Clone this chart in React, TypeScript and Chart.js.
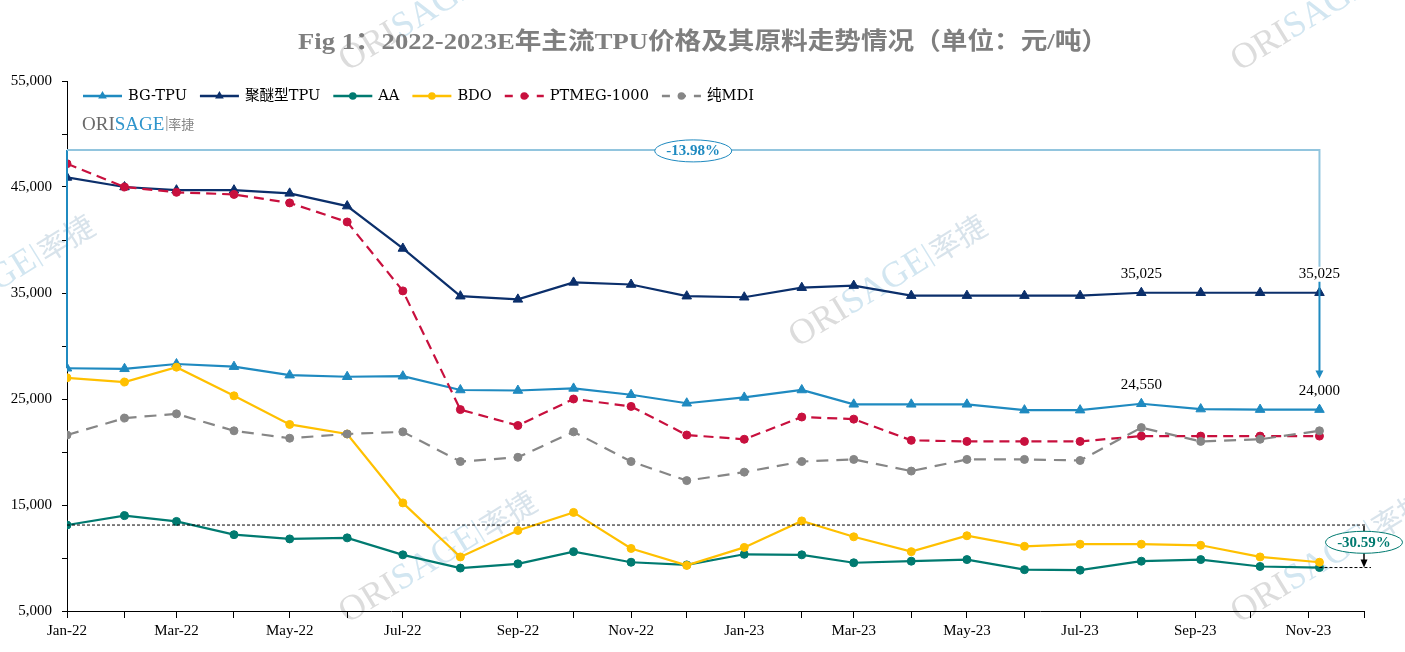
import React, { useEffect, useRef } from 'react';
import { Chart, registerables } from 'chart.js';

Chart.register(...registerables);

// ---------------- DATA ----------------
const TITLE = 'Fig 1：2022-2023E年主流TPU价格及其原料走势情况（单位：元/吨）';

const X_TICK_DATES = [
  '2022-01-01', '2022-02-01', '2022-03-01', '2022-04-01', '2022-05-01', '2022-06-01',
  '2022-07-01', '2022-08-01', '2022-09-01', '2022-10-01', '2022-11-01', '2022-12-01',
  '2023-01-01', '2023-02-01', '2023-03-01', '2023-04-01', '2023-05-01', '2023-06-01',
  '2023-07-01', '2023-08-01', '2023-09-01', '2023-10-01', '2023-11-01', '2023-12-01',
];
const X_TICK_LABELS = [
  'Jan-22', '', 'Mar-22', '', 'May-22', '', 'Jul-22', '', 'Sep-22', '', 'Nov-22', '',
  'Jan-23', '', 'Mar-23', '', 'May-23', '', 'Jul-23', '', 'Sep-23', '', 'Nov-23', '',
];

const POINT_DATES = [
  '2022-01-01', '2022-02-01', '2022-03-01', '2022-04-01', '2022-05-01', '2022-06-01',
  '2022-07-01', '2022-08-01', '2022-09-01', '2022-10-01', '2022-11-01', '2022-12-01',
  '2023-01-01', '2023-02-01', '2023-03-01', '2023-04-01', '2023-05-01', '2023-06-01',
  '2023-07-01', '2023-08-03', '2023-09-04', '2023-10-06', '2023-11-07',
];

const BG_TPU = [27900, 27850, 28300, 28050, 27250, 27100, 27150, 25850, 25800, 26000, 25400, 24600,
  25150, 25850, 24500, 24500, 24500, 23950, 23950, 24550, 24050, 24000, 24000];
const POLYETHER_TPU = [45900, 45000, 44700, 44700, 44400, 43200, 39200, 34700, 34400, 36000, 35800, 34700,
  34600, 35500, 35700, 34750, 34750, 34750, 34750, 35025, 35025, 35025, 35025];
const AA = [13110, 14000, 13450, 12200, 11800, 11900, 10300, 9050, 9450, 10600, 9600, 9350,
  10350, 10300, 9550, 9700, 9850, 8900, 8850, 9700, 9850, 9200, 9100];
const BDO = [27000, 26600, 28000, 25300, 22600, 21700, 15200, 10100, 12600, 14300, 10900, 9300,
  11000, 13500, 12000, 10600, 12100, 11100, 11300, 11300, 11200, 10100, 9600];
const PTMEG = [47200, 45000, 44500, 44300, 43500, 41700, 35200, 24000, 22500, 25000, 24300, 21600,
  21200, 23300, 23100, 21100, 21000, 21000, 21000, 21500, 21500, 21500, 21500];
const MDI = [21600, 23200, 23600, 22000, 21300, 21700, 21900, 19100, 19500, 21900, 19100, 17300,
  18100, 19100, 19300, 18200, 19300, 19300, 19200, 22300, 21000, 21200, 22000];

const SERIES_LABELS = ['BG-TPU', '聚醚型TPU', 'AA', 'BDO', 'PTMEG-1000', '纯MDI'];
const SERIES_VALUES = [BG_TPU, POLYETHER_TPU, AA, BDO, PTMEG, MDI];

const Y_MIN = 5000;
const Y_MAX = 55000;
const Y_STEP = 5000;

// data labels: [series index, point index]
const LABELED_POINTS: [number, number][] = [[1, 19], [1, 22], [0, 19], [0, 22]];
const BRACKET_LEVEL = 48500;
const BG_CHANGE = '-13.98%';
const AA_CHANGE = '-30.59%';

// ---------------- STYLES ----------------
const COLORS = ['#1F8AC0', '#0B2F6B', '#007A70', '#FFC000', '#C8103E', '#868686'];
const POINT_STYLES = ['triangle', 'triangle', 'circle', 'circle', 'circle', 'circle'];
const DASHES = [[], [], [], [], [10, 6], [12, 8]];
const SERIF = '"Liberation Serif", "Times New Roman", serif';

const DAY0 = Date.parse('2022-01-01');
const toDay = (s: string) => Math.round((Date.parse(s) - DAY0) / 86400000);
const fmt = (v: number) => v.toLocaleString('en-US');

function drawTriangle(ctx: CanvasRenderingContext2D, x: number, y: number, r: number) {
  ctx.beginPath();
  ctx.moveTo(x, y - r);
  ctx.lineTo(x + r * 0.866, y + r * 0.5);
  ctx.lineTo(x - r * 0.866, y + r * 0.5);
  ctx.closePath();
  ctx.fill();
}

function arrowDown(ctx: CanvasRenderingContext2D, x: number, tipY: number, w: number, h: number) {
  ctx.beginPath();
  ctx.moveTo(x, tipY);
  ctx.lineTo(x - w / 2, tipY - h);
  ctx.lineTo(x + w / 2, tipY - h);
  ctx.closePath();
  ctx.fill();
}

function drawWatermark(ctx: CanvasRenderingContext2D, cx: number, cy: number) {
  ctx.save();
  ctx.translate(cx, cy);
  ctx.rotate(-31.6 * Math.PI / 180);
  ctx.textBaseline = 'middle';
  ctx.font = `36px ${SERIF}`;
  const w1 = ctx.measureText('ORI').width;
  const w2 = ctx.measureText('SAGE').width;
  ctx.font = '30px "Noto Sans CJK SC"';
  const w3 = ctx.measureText('率捷').width;
  const total = w1 + w2 + 8 + w3;
  let x = -total / 2;
  ctx.font = `36px ${SERIF}`;
  ctx.fillStyle = '#dcdcdc';
  ctx.fillText('ORI', x, 0);
  x += w1;
  ctx.fillStyle = '#d2e6f1';
  ctx.fillText('SAGE', x, 0);
  x += w2 + 3;
  ctx.fillRect(x, -14, 1.5, 26);
  x += 5;
  ctx.font = '30px "Noto Sans CJK SC"';
  ctx.fillStyle = '#d8e3eb';
  ctx.fillText('率捷', x, 0);
  ctx.restore();
}

const overlayPlugin = {
  id: 'overlay',
  beforeDraw(chart: any) {
    const ctx: CanvasRenderingContext2D = chart.ctx;
    ctx.save();
    ctx.fillStyle = '#ffffff';
    ctx.fillRect(0, 0, chart.width, chart.height);
    const centers = [[438, 5], [1330, 5], [-4, 281], [888, 281], [438, 557], [1330, 557]];
    centers.forEach(([x, y]) => drawWatermark(ctx, x, y));
    ctx.restore();
  },
  afterDatasetsDraw(chart: any) {
    const ctx: CanvasRenderingContext2D = chart.ctx;
    const xs = chart.scales.x;
    const ys = chart.scales.y;
    const area = chart.chartArea;
    const n = POINT_DATES.length;
    const xFirst = xs.getPixelForValue(toDay(POINT_DATES[0]));
    const xLast = xs.getPixelForValue(toDay(POINT_DATES[n - 1]));
    const yBr = ys.getPixelForValue(BRACKET_LEVEL);
    const yBgFirst = ys.getPixelForValue(BG_TPU[0]);
    const yBgLast = ys.getPixelForValue(BG_TPU[n - 1]);
    const yPeLast = ys.getPixelForValue(POLYETHER_TPU[n - 1]);
    ctx.save();

    // ---- BG-TPU bracket ----
    ctx.lineWidth = 2;
    ctx.strokeStyle = '#1F8AC0';
    ctx.beginPath();
    ctx.moveTo(xFirst, yBr);
    ctx.lineTo(xFirst, yBgFirst);
    ctx.stroke();
    ctx.strokeStyle = '#92C5DE';
    ctx.beginPath();
    ctx.moveTo(xFirst, yBr);
    ctx.lineTo(xLast, yBr);
    ctx.lineTo(xLast, yPeLast - 26);
    ctx.stroke();
    ctx.strokeStyle = '#1F8AC0';
    ctx.fillStyle = '#1F8AC0';
    const tip = yBgLast - 31;
    ctx.beginPath();
    ctx.moveTo(xLast, yPeLast - 11);
    ctx.lineTo(xLast, tip - 6);
    ctx.stroke();
    arrowDown(ctx, xLast, tip, 8, 8);

    // ellipse -13.98%
    const ex = (xFirst + xLast) / 2;
    ctx.beginPath();
    ctx.ellipse(ex, yBr + 1, 38.5, 11, 0, 0, Math.PI * 2);
    ctx.fillStyle = '#ffffff';
    ctx.fill();
    ctx.lineWidth = 1;
    ctx.strokeStyle = '#1F8AC0';
    ctx.stroke();
    ctx.fillStyle = '#1F8AC0';
    ctx.font = `bold 15px ${SERIF}`;
    ctx.textAlign = 'center';
    ctx.textBaseline = 'middle';
    ctx.fillText(BG_CHANGE, ex, yBr + 1.5);

    // ---- AA dashed reference ----
    const yAaFirst = ys.getPixelForValue(AA[0]);
    const yAaLast = ys.getPixelForValue(AA[n - 1]);
    ctx.strokeStyle = '#000000';
    ctx.lineWidth = 1;
    ctx.setLineDash([3, 2]);
    ctx.beginPath();
    ctx.moveTo(area.left, yAaFirst);
    ctx.lineTo(area.right + 3, yAaFirst);
    ctx.moveTo(xLast, yAaLast);
    ctx.lineTo(area.right + 7, yAaLast);
    ctx.stroke();
    ctx.setLineDash([]);
    ctx.lineWidth = 1.5;
    ctx.beginPath();
    ctx.moveTo(area.right, yAaFirst + 1);
    ctx.lineTo(area.right, yAaLast - 6);
    ctx.stroke();
    ctx.fillStyle = '#000000';
    arrowDown(ctx, area.right, yAaLast, 7, 8);

    const ay = (yAaFirst + yAaLast) / 2 - 4;
    ctx.beginPath();
    ctx.ellipse(area.right, ay, 38.5, 11, 0, 0, Math.PI * 2);
    ctx.fillStyle = '#ffffff';
    ctx.fill();
    ctx.lineWidth = 1;
    ctx.strokeStyle = '#007A70';
    ctx.stroke();
    ctx.fillStyle = '#007A70';
    ctx.font = `bold 15px ${SERIF}`;
    ctx.fillText(AA_CHANGE, area.right, ay + 0.5);

    // ---- data labels ----
    ctx.fillStyle = '#000000';
    ctx.font = `15px ${SERIF}`;
    LABELED_POINTS.forEach(([si, pi]) => {
      const el = chart.getDatasetMeta(si).data[pi];
      ctx.fillText(fmt(SERIES_VALUES[si][pi]), el.x, el.y - 19);
    });
    ctx.restore();
  },
  afterDraw(chart: any) {
    const ctx: CanvasRenderingContext2D = chart.ctx;
    ctx.save();
    // title
    ctx.font = `bold 24px ${SERIF}, "Noto Sans CJK SC"`;
    const tw = ctx.measureText(TITLE).width;
    ctx.translate(703, 49);
    ctx.scale(810 / tw, 1);
    ctx.fillStyle = '#7f7f7f';
    ctx.textAlign = 'center';
    ctx.textBaseline = 'alphabetic';
    ctx.fillText(TITLE, 0, 0);
    ctx.restore();

    // legend
    ctx.save();
    const ly = 96;
    let x = 83;
    ctx.font = '14.6px "DejaVu Serif", "Noto Sans CJK SC"';
    ctx.textBaseline = 'middle';
    ctx.textAlign = 'left';
    SERIES_LABELS.forEach((label, i) => {
      ctx.strokeStyle = COLORS[i];
      ctx.fillStyle = COLORS[i];
      ctx.lineWidth = 2.4;
      ctx.setLineDash(DASHES[i].length ? [8, 8] : []);
      ctx.beginPath();
      ctx.moveTo(x, ly);
      ctx.lineTo(x + 39, ly);
      ctx.stroke();
      ctx.setLineDash([]);
      if (POINT_STYLES[i] === 'triangle') drawTriangle(ctx, x + 19.5, ly, 5);
      else {
        ctx.beginPath();
        ctx.arc(x + 19.5, ly, 3.8, 0, Math.PI * 2);
        ctx.fill();
      }
      ctx.fillStyle = '#000000';
      ctx.fillText(label, x + 45, ly + 0.5);
      x += 45 + ctx.measureText(label).width + 13;
    });

    // logo
    ctx.textBaseline = 'alphabetic';
    ctx.font = `19px ${SERIF}`;
    ctx.fillStyle = '#6a6a6a';
    ctx.fillText('ORI', 82, 130);
    let lx = 82 + ctx.measureText('ORI').width;
    ctx.fillStyle = '#2F95CC';
    ctx.fillText('SAGE', lx, 130);
    lx += ctx.measureText('SAGE').width + 2;
    ctx.fillStyle = '#9a9a9a';
    ctx.fillRect(lx, 116, 1, 15);
    ctx.font = '13px "Noto Sans CJK SC"';
    ctx.fillStyle = '#858585';
    ctx.fillText('率捷', lx + 2, 129);
    ctx.restore();
  },
};

export default function App() {
  const ref = useRef<HTMLCanvasElement>(null);
  useEffect(() => {
    const tickDays = X_TICK_DATES.map(toDay);
    const datasets = SERIES_LABELS.map((label, i) => ({
      label,
      data: POINT_DATES.map((d, j) => ({ x: toDay(d), y: SERIES_VALUES[i][j] })),
      borderColor: COLORS[i],
      backgroundColor: COLORS[i],
      pointBackgroundColor: COLORS[i],
      pointBorderColor: COLORS[i],
      borderWidth: 2.2,
      borderDash: DASHES[i],
      pointStyle: POINT_STYLES[i],
      pointRadius: POINT_STYLES[i] === 'triangle' ? 5.5 : 4,
      pointBorderWidth: 1,
      tension: 0,
      order: 6 - i,
    }));
    const chart = new Chart(ref.current as HTMLCanvasElement, {
      type: 'line',
      data: { datasets },
      plugins: [overlayPlugin],
      options: {
        animation: false,
        responsive: false,
        devicePixelRatio: 1,
        layout: { padding: { top: 81, right: 41, left: 0, bottom: 0 } },
        plugins: { legend: { display: false }, title: { display: false }, tooltip: { enabled: false } },
        scales: {
          x: {
            type: 'linear',
            min: tickDays[0],
            max: tickDays[tickDays.length - 1],
            afterBuildTicks: (axis: any) => {
              axis.ticks = tickDays.map((v) => ({ value: v }));
            },
            afterFit: (axis: any) => { axis.height = 41; },
            grid: { display: true, drawOnChartArea: false, drawTicks: true, tickLength: 7, color: '#000000', lineWidth: 1 },
            border: { display: true, color: '#000000', width: 1 },
            ticks: {
              autoSkip: false,
              maxRotation: 0,
              minRotation: 0,
              padding: 4,
              color: '#000000',
              font: { family: SERIF, size: 15 },
              callback: (_v: any, idx: number) => X_TICK_LABELS[idx],
            },
          },
          y: {
            type: 'linear',
            min: Y_MIN,
            max: Y_MAX,
            afterFit: (axis: any) => { axis.width = 67; },
            grid: { display: true, drawOnChartArea: false, drawTicks: true, tickLength: 5, color: '#000000', lineWidth: 1 },
            border: { display: true, color: '#000000', width: 1 },
            ticks: {
              stepSize: Y_STEP,
              autoSkip: false,
              padding: 10,
              color: '#000000',
              font: { family: SERIF, size: 15 },
              callback: (v: any) => ((Number(v) - Y_MIN) % (Y_STEP * 2) === 0 ? fmt(Number(v)) : ''),
            },
          },
        },
      },
    } as any);
    return () => chart.destroy();
  }, []);
  return (
    <div style={{ position: 'fixed', left: 0, top: 0, width: 1405, height: 652, background: '#ffffff' }}>
      <canvas ref={ref} width={1405} height={652} style={{ display: 'block', width: 1405, height: 652 }} />
    </div>
  );
}
